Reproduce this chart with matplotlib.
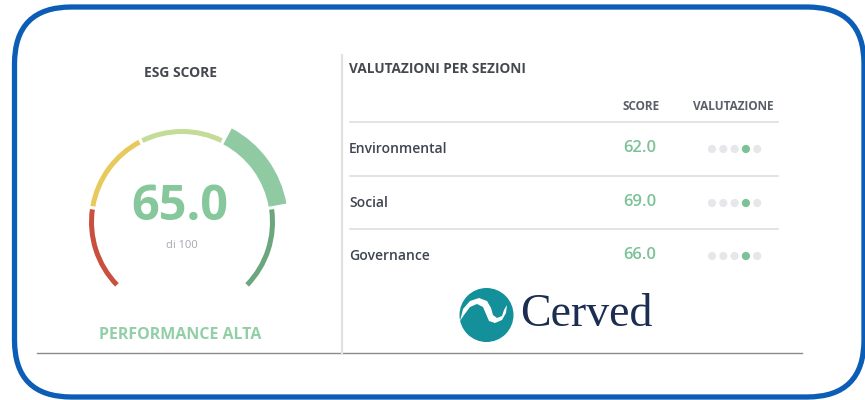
import matplotlib
matplotlib.use('Agg')
import matplotlib.pyplot as plt
from matplotlib.patches import Wedge, Circle, FancyBboxPatch, Polygon

# data
esg_score = 65.0
esg_max = 100
esg_label = 'PERFORMANCE ALTA'
sections = ['Environmental', 'Social', 'Governance']
section_scores = [62.0, 69.0, 66.0]
band_colors = ['#c9503e', '#e8c95b', '#c5dc98', '#8fcaa2', '#6ba67f']

plt.rcParams['font.family'] = ['Open Sans', 'DejaVu Sans']

fig = plt.figure(figsize=(8.65, 4), dpi=100)
ax = fig.add_axes([0, 0, 1, 1])
ax.set_xlim(0, 865)
ax.set_ylim(400, 0)
ax.axis('off')

# blue frame
ax.add_patch(FancyBboxPatch((14.5, 7), 849.5, 390, boxstyle='round,pad=0,rounding_size=57',
                            fc='none', ec='#0b5db6', lw=3.8, zorder=5))

# left panel: gauge
ax.text(180, 73, 'ESG SCORE', ha='center', va='center', fontsize=10, fontweight='bold', color='#45484f')

cx, cy = 182, 222
n = len(band_colors)
span = 270.0
step = span / n
active = min(int(esg_score // (esg_max / n)), n - 1)
for i, col in enumerate(band_colors):
    a_start = 225 - i * step   # screen angles
    a_end = a_start - step
    gap = 1.0
    if i == active:
        w = Wedge((cx, cy), 106, -a_start + gap, -a_end - gap, width=18, fc=col, ec='none')
    else:
        w = Wedge((cx, cy), 93, -a_start + gap, -a_end - gap, width=5, fc=col, ec='none')
    ax.add_patch(w)

ax.text(cx - 2, 208, f'{esg_score:.1f}', ha='center', va='center', fontsize=35,
        fontweight='bold', color='#86c79c')
ax.text(cx, 246, f'di {esg_max}', ha='center', va='center', fontsize=8, color='#a4a8b1')
ax.text(180, 335, esg_label, ha='center', va='center', fontsize=11.5, fontweight='bold', color='#92cfa7')

ax.plot([37, 802], [353, 353], color='#8a8a8a', lw=1.0)
ax.plot([341.5, 341.5], [55, 353], color='#e2e2e2', lw=1.6)

# right panel: table
ax.text(349, 69, 'VALUTAZIONI PER SEZIONI', ha='left', va='center', fontsize=9.8,
        fontweight='bold', color='#45484f')
ax.text(641, 106, 'SCORE', ha='center', va='center', fontsize=8.5, fontweight='bold', color='#5a5e67')
ax.text(733, 106, 'VALUTAZIONE', ha='center', va='center', fontsize=8.5, fontweight='bold', color='#5a5e67')

row_y = [149, 203, 256]
line_y = [122, 176, 229]
for ly in line_y:
    ax.plot([350, 778], [ly, ly], color='#dedede', lw=1.2)

for name, sc, ry in zip(sections, section_scores, row_y):
    ax.text(349, ry, name, ha='left', va='center', fontsize=10, fontweight='semibold', color='#3f4451')
    ax.text(640, ry - 1, f'{sc:.1f}', ha='center', va='center', fontsize=12,
            fontweight='semibold', color='#7cc296')
    level = min(int(sc // (100 / 5)), 4)
    for k in range(5):
        ax.add_patch(Circle((712 + k * 11.3, ry), 4.1,
                            fc='#7cc296' if k == level else '#e6e7ea', ec='none'))

# Cerved logo
ax.add_patch(Circle((486.5, 315), 27, fc='#13909a', ec='none'))
swoosh = [(460, 321), (463, 309), (470, 301), (479, 298), (487, 301), (491, 308),
          (493, 315), (497, 318), (502, 316), (504, 310), (507, 305),
          (506, 313), (502, 320), (495, 323), (489, 321), (486, 314),
          (483, 307), (477, 304), (470, 307), (464, 315)]
ax.add_patch(Polygon(swoosh, closed=True, fc='white', ec='none'))
ax.text(520, 326, 'Cerved', ha='left', va='baseline', fontsize=33,
        family=['Liberation Serif', 'DejaVu Serif'], color='#1c2d52')

fig.savefig('out.png', dpi=100)
